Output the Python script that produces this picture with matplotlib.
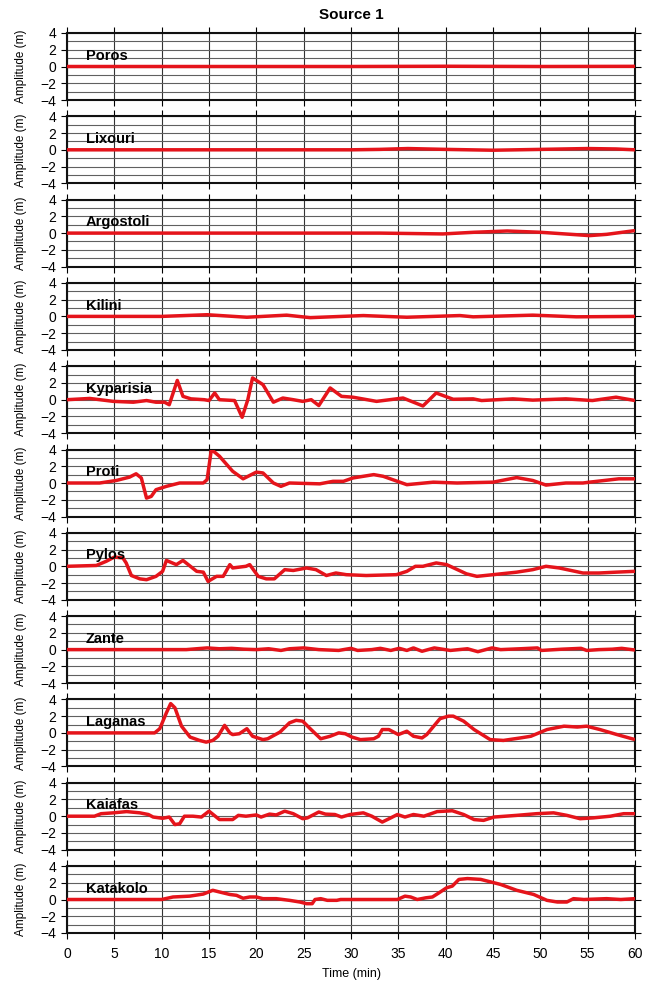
import matplotlib
matplotlib.use('Agg')
import matplotlib.pyplot as plt
from matplotlib.ticker import MultipleLocator

plt.rcParams['font.family'] = ['Liberation Sans', 'DejaVu Sans']

# (time in min, amplitude in m)
POROS = [(0, 0), (30, 0), (40, 0.03), (50, 0.0), (60, 0.02)]
LIXOURI = [(0, 0), (30, 0), (33, 0.05), (36, 0.15), (40, 0.05), (45, -0.05),
           (50, 0.05), (55, 0.15), (58, 0.1), (60, 0)]
ARGOSTOLI = [(0, 0), (33, 0), (39.7, -0.1), (43, 0.1), (46.5, 0.25), (50, 0.1),
             (55.2, -0.3), (57, -0.15), (60, 0.3)]
KILINI = [(0, 0), (10, 0), (14.8, 0.2), (19, -0.1), (23.2, 0.15), (25.7, -0.15),
          (29, 0), (31.3, 0.1), (35.9, -0.1), (41.5, 0.1), (42.9, -0.05),
          (49.2, 0.15), (53.8, -0.05), (60, 0)]
KYPARISIA = [(0, 0), (2.4, 0.15), (4.9, -0.2), (7, -0.3), (8.4, -0.1), (9.4, -0.3),
             (10.3, -0.3), (10.8, -0.6), (11.65, 2.3), (12.25, 0.4), (13.1, 0.1),
             (14.5, 0), (15, -0.1), (15.6, 0.8), (16.1, 0), (17.7, -0.1), (18.5, -2.1),
             (19.1, 0), (19.6, 2.6), (20.7, 1.8), (21.8, -0.3), (22.8, 0.2), (23.9, 0),
             (24.9, -0.2), (25.8, 0), (26.6, -0.7), (27.8, 1.4), (29, 0.4), (30.2, 0.3),
             (32.7, -0.2), (35.5, 0.2), (37.6, -0.75), (39, 0.8), (40.8, 0.05),
             (42.9, 0.1), (43.8, -0.1), (47.1, 0.1), (49.2, -0.05), (52.7, 0.1),
             (55.5, -0.1), (58, 0.3), (60, -0.1)]
PROTI = [(0, 0), (3.45, 0), (5.2, 0.3), (6.6, 0.7), (7.3, 1.1), (7.85, 0.6),
         (8.4, -1.8), (8.9, -1.6), (9.4, -0.8), (10.5, -0.4), (11.9, 0), (14.4, 0),
         (14.8, 0.4), (15.25, 4.0), (16.1, 3.2), (17.5, 1.4), (18.6, 0.5), (20, 1.3),
         (20.7, 1.2), (21.8, 0), (22.6, -0.4), (23.5, 0), (26.7, -0.1), (28.1, 0.2),
         (29.2, 0.2), (30.2, 0.6), (32.4, 1.0), (33.4, 0.8), (35.9, -0.2), (38.7, 0.1),
         (41.2, 0), (45, 0.1), (47.5, 0.65), (49.2, 0.3), (50.6, -0.25), (52.7, 0),
         (54.5, 0), (55.2, 0.1), (58.3, 0.5), (60, 0.5)]
PYLOS = [(0, 0), (3.1, 0.1), (4.15, 0.6), (5, 1.1), (5.9, 1.0), (6.25, 0.4),
         (6.8, -1.1), (7.7, -1.5), (8.4, -1.6), (9.4, -1.2), (10.1, -0.6), (10.5, 0.7),
         (11.55, 0.2), (12.25, 0.7), (13.7, -0.6), (14.4, -0.7), (14.9, -1.8),
         (15.8, -1.2), (16.5, -1.2), (17.2, 0.2), (17.5, -0.2), (18.9, 0), (19.3, 0.2),
         (20.2, -1.2), (21.05, -1.5), (21.9, -1.5), (23, -0.4), (23.9, -0.5),
         (25.3, -0.2), (26.3, -0.4), (27.4, -1.1), (28.4, -0.8), (29.5, -1.0),
         (31.6, -1.1), (34.8, -1.0), (35.9, -0.6), (36.8, 0), (37.6, 0), (39, 0.4),
         (40.1, 0.2), (42.2, -0.9), (43.3, -1.2), (45, -1.0), (47.5, -0.7),
         (49.2, -0.4), (50.6, 0), (52, -0.2), (54.5, -0.8), (56.2, -0.8), (58, -0.7),
         (60, -0.6)]
ZANTE = [(0, 0), (12.6, 0), (14.8, 0.2), (16.1, 0.1), (17.4, 0.15), (18.7, 0.05),
         (20, 0), (21.3, 0.1), (22.6, -0.1), (23.5, 0.1), (25, 0.2), (26.6, 0),
         (28.7, -0.1), (30, 0.15), (30.7, -0.1), (32.2, 0), (33.1, 0.15), (34.2, -0.1),
         (35.1, 0.15), (35.9, -0.1), (36.6, 0.2), (37.5, -0.2), (38.8, 0.2),
         (40.5, -0.1), (42.3, 0.1), (43.4, -0.25), (44.9, 0.2), (45.8, 0), (47.9, 0.1),
         (49.7, 0.2), (50.1, -0.1), (52.3, 0.05), (54.3, 0.15), (54.9, -0.1),
         (56.2, 0), (57.6, 0.05), (58.6, 0.15), (60, -0.05)]
LAGANAS = [(0, 0), (9.26, 0), (9.8, 0.5), (10.5, 2.4), (10.95, 3.5), (11.4, 3.0),
           (12.1, 0.8), (13, -0.5), (14, -0.9), (14.7, -1.1), (15.4, -0.9),
           (15.95, -0.4), (16.65, 0.9), (17.2, 0), (17.5, -0.2), (18.2, -0.1), (19, 0.5),
           (19.6, -0.4), (20.7, -0.8), (21.2, -0.7), (22.5, 0.1), (23.5, 1.2),
           (24.2, 1.5), (24.9, 1.4), (25.6, 0.6), (26.8, -0.7), (27.8, -0.4), (28.7, 0),
           (29.4, -0.1), (30.1, -0.5), (31, -0.8), (32.4, -0.7), (32.9, -0.4),
           (33.3, 0.4), (34, 0.4), (35, -0.2), (35.9, 0.2), (36.6, -0.4), (37.5, -0.6),
           (38, -0.2), (39.4, 1.7), (40.3, 2.0), (40.8, 2.0), (41.9, 1.4), (43, 0.4),
           (44.7, -0.8), (46.1, -0.9), (47.9, -0.6), (49, -0.4), (50.7, 0.4),
           (52.5, 0.8), (53.9, 0.7), (54.9, 0.8), (56.3, 0.4), (58.1, -0.2), (60, -0.8)]
KAIAFAS = [(0, 0), (2.9, 0), (3.6, 0.3), (4.9, 0.4), (6.3, 0.55), (7.7, 0.4),
           (8.6, 0.2), (9.1, -0.1), (10.1, -0.25), (10.8, -0.1), (11.4, -1.0),
           (11.9, -0.9), (12.4, 0), (13.3, 0), (14.2, -0.1), (15, 0.6), (16.1, -0.4),
           (17.5, -0.4), (18.1, 0.1), (18.9, 0), (20, 0.15), (20.5, -0.1), (21.4, 0.25),
           (22.1, 0.15), (23, 0.6), (23.9, 0.3), (24.9, -0.3), (25.4, -0.2),
           (26.6, 0.5), (27.3, 0.25), (28.3, 0.2), (29, -0.1), (29.9, 0.2), (31.3, 0.4),
           (32.2, 0), (33.3, -0.7), (34.2, -0.2), (34.9, 0.2), (35.7, -0.1),
           (36.6, 0.2), (37.7, 0), (39.1, 0.55), (40.7, 0.65), (41.9, 0.2),
           (43, -0.4), (44, -0.5), (45.1, -0.1), (47.5, 0.1), (49.6, 0.3), (51.4, 0.4),
           (52.8, 0.1), (54.2, -0.3), (55.6, -0.2), (57.4, 0), (58.8, 0.3), (60, 0.3)]
KATAKOLO = [(0, 0), (10, 0), (11.2, 0.3), (12.95, 0.4), (14.4, 0.65), (15.4, 1.1),
            (16.1, 0.9), (17.2, 0.6), (17.9, 0.5), (18.6, 0.15), (19.3, 0.3), (20, 0.3),
            (20.7, 0.1), (22.1, 0.1), (23.5, -0.1), (24.6, -0.3), (25.3, -0.5),
            (25.9, -0.5), (26.2, 0), (26.8, 0.1), (27.5, -0.1), (28.5, -0.1), (28.9, 0),
            (34.9, 0), (35.7, 0.4), (36.3, 0.3), (37, 0), (37.9, 0.2), (38.6, 0.3),
            (39.3, 0.8), (40.1, 1.4), (40.7, 1.6), (41.4, 2.4), (42.3, 2.5), (43.7, 2.4),
            (45.8, 1.8), (47.5, 1.1), (49.3, 0.6), (50.7, -0.1), (51.8, -0.3),
            (52.8, -0.3), (53.5, 0.1), (54.6, 0), (57, 0.1), (58.5, 0), (60, 0.1)]

STATIONS = ['Poros', 'Lixouri', 'Argostoli', 'Kilini', 'Kyparisia', 'Proti',
            'Pylos', 'Zante', 'Laganas', 'Kaiafas', 'Katakolo']
SERIES = [POROS, LIXOURI, ARGOSTOLI, KILINI, KYPARISIA, PROTI,
          PYLOS, ZANTE, LAGANAS, KAIAFAS, KATAKOLO]

W, H = 648, 983
fig = plt.figure(figsize=(W / 100, H / 100), dpi=100)

left, right = 67, 635
top0, pitch, ph = 33, 83.3, 67

for i, (name, data) in enumerate(zip(STATIONS, SERIES)):
    top = top0 + i * pitch
    ax = fig.add_axes([left / W, 1 - (top + ph) / H, (right - left) / W, ph / H])
    t = [p[0] for p in data]
    v = [p[1] for p in data]
    ax.set_xlim(0, 60)
    ax.set_ylim(-4, 4)
    ax.xaxis.set_major_locator(MultipleLocator(5))
    ax.yaxis.set_major_locator(MultipleLocator(2))
    ax.yaxis.set_minor_locator(MultipleLocator(1))
    ax.grid(True, which='both', axis='y', color='#606060', lw=0.8)
    ax.grid(True, which='major', axis='x', color='#333333', lw=0.8)
    ax.set_axisbelow(True)
    ax.plot(t, v, color='#e5141b', lw=2.5, solid_joinstyle='round',
            solid_capstyle='butt', zorder=3)
    for s in ax.spines.values():
        s.set_linewidth(1.5)
        s.set_color('#111111')
    ax.tick_params(axis='both', which='major', direction='out', length=4, width=0.8,
                   top=True, right=True, labelsize=10, pad=4)
    ax.tick_params(axis='y', which='minor', length=0)
    ax.set_ylabel('Amplitude (m)', fontsize=8.5, labelpad=9)
    ax.text(2, 1.3, name, fontsize=10.5, fontweight='bold', va='center', ha='left')
    if i < len(STATIONS) - 1:
        ax.tick_params(axis='x', labelbottom=False)
    else:
        ax.tick_params(axis='x', pad=6)
    if i == 0:
        ax.set_title('Source 1', fontsize=11, fontweight='bold', pad=10)

fig.text((left + right) / 2 / W, 1 - 974 / H, 'Time (min)', fontsize=9,
         ha='center', va='center')

fig.savefig('out.png', dpi=100)
